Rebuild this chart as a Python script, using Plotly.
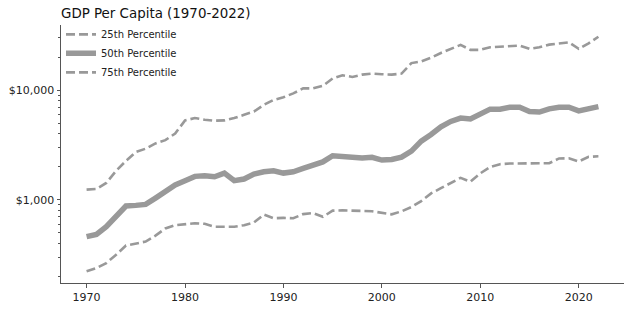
import numpy as np
import plotly.graph_objects as go

years = list(range(1970, 2023))

p25 = [223, 239, 265, 315, 383, 401, 416, 471, 548, 587,
       595, 611, 604, 568, 568, 568, 587, 621, 733, 679,
       684, 679, 740, 756, 699, 796, 801, 791, 791, 785,
       759, 737, 785, 859, 973, 1144, 1275, 1414, 1585, 1462,
       1743, 1991, 2110, 2141, 2141, 2153, 2153, 2153, 2381, 2390,
       2232, 2465, 2490]

p50 = [461, 484, 568, 714, 877, 889, 907, 1036, 1173, 1365,
       1493, 1635, 1656, 1622, 1751, 1493, 1546, 1715, 1799, 1836,
       1751, 1799, 1930, 2067, 2213, 2518, 2476, 2506, 2400, 2439,
       2301, 2327, 2450, 2780, 3422, 3933, 4615, 5178, 5559, 5445,
       5954, 6702, 6702, 6982, 6982, 6374, 6300, 6745, 6982, 6982,
       6470, 6745, 7070]

p75 = [1238, 1256, 1423, 1836, 2260, 2724, 2922, 3264, 3493, 4015,
       5289, 5559, 5370, 5257, 5289, 5559, 5954, 6374, 7328, 8128,
       8593, 9337, 10355, 10355, 10936, 12750, 13650, 13180, 13840, 14130,
       13940, 13840, 14130, 17620, 18240, 19710, 21780, 23760, 25820, 23270,
       23270, 24550, 24900, 24900, 25430, 23760, 24550, 25950, 26680, 27230,
       23760, 26680, 30640]

y_major = [1000, 10000]
y_major_text = ["$1,000", "$10,000"]
y_minor = [m * d for d in (100, 1000, 10000) for m in range(2, 10)]
x_ticks = [1970, 1980, 1990, 2000, 2010, 2020]

LINE = "#999999"
AXIS = "#555555"
FONT = "DejaVu Sans"
dash = "9px,4px"

fig = go.Figure()
fig.add_trace(go.Scatter(x=years, y=p25, mode="lines", name="25th Percentile",
                         line=dict(color=LINE, width=2.6, dash=dash)))
fig.add_trace(go.Scatter(x=years, y=p50, mode="lines", name="50th Percentile",
                         line=dict(color=LINE, width=5.5)))
fig.add_trace(go.Scatter(x=years, y=p75, mode="lines", name="75th Percentile",
                         line=dict(color=LINE, width=2.6, dash=dash)))

# 5% padding on both axes, computed in log space for y
ymin, ymax = np.log10(min(p25)), np.log10(max(p75))
ypad = 0.05 * (ymax - ymin)
xpad = 0.05 * (years[-1] - years[0])

fig.update_layout(
    width=632, height=312,
    margin=dict(l=61, r=8, t=25, b=26),
    plot_bgcolor="white", paper_bgcolor="white",
    font=dict(family=FONT, size=11, color="#222222"),
    title=dict(text="GDP Per Capita (1970-2022)", x=61 / 632, xanchor="left",
               y=1 - 13 / 312, yanchor="middle",
               font=dict(size=13.4, color="#111111")),
    showlegend=True,
    legend=dict(x=0.0, y=1.02, xanchor="left", yanchor="top",
                bgcolor="rgba(0,0,0,0)", font=dict(size=10, color="#222222"),
                itemwidth=30),
    xaxis=dict(range=[years[0] - xpad, years[-1] + xpad],
               tickvals=x_ticks, ticks="outside", ticklen=3.5, tickwidth=1,
               tickcolor=AXIS, showline=True, linecolor=AXIS, linewidth=1,
               showgrid=False, zeroline=False),
    yaxis=dict(type="log", range=[ymin - ypad, ymax + ypad],
               tickvals=y_major, ticktext=y_major_text,
               ticks="outside", ticklen=3.5, tickwidth=1, tickcolor=AXIS,
               showline=True, linecolor=AXIS, linewidth=1,
               showgrid=False, zeroline=False,
               minor=dict(tickmode="array", tickvals=y_minor, ticks="outside",
                          ticklen=2, tickwidth=0.8, tickcolor=AXIS,
                          showgrid=False)),
)

fig.write_html("out.html")
